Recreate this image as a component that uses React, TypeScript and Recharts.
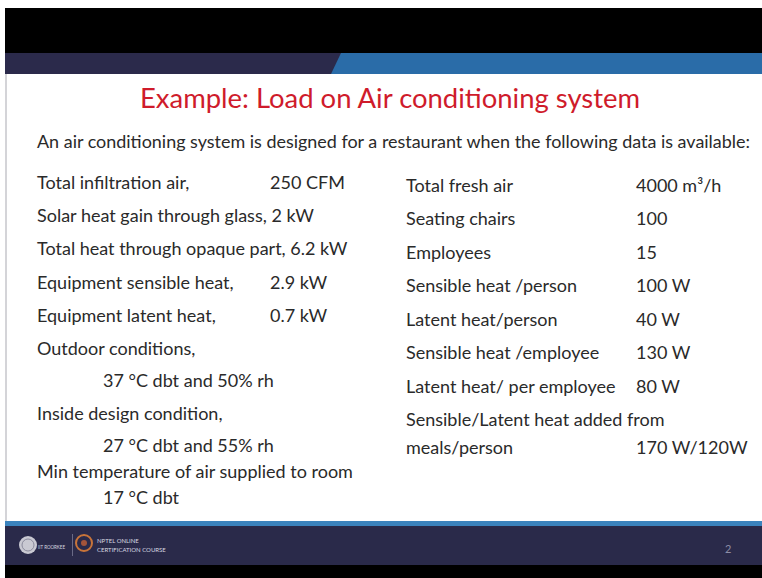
import React from 'react';
import { ComposedChart, Customized } from 'recharts';

const titleText = 'Example: Load on Air conditioning system';
const introText =
  'An air conditioning system is designed for a restaurant when the following data is available:';

const leftLabels = [
  'Total infiltration air,',
  'Solar heat gain through glass, 2 kW',
  'Total heat through opaque part, 6.2 kW',
  'Equipment sensible heat,',
  'Equipment latent heat,',
  'Outdoor conditions,',
  '37 °C dbt and 50% rh',
  'Inside design condition,',
  '27 °C dbt and 55% rh',
  'Min temperature of air supplied to room',
  '17 °C dbt',
];
const leftValues = ['250 CFM', '', '', '2.9 kW', '0.7 kW', '', '', '', '', '', ''];
const leftIndented = [false, false, false, false, false, false, true, false, true, false, true];

const rightLabels = [
  'Total fresh air',
  'Seating chairs',
  'Employees',
  'Sensible heat /person',
  'Latent heat/person',
  'Sensible heat /employee',
  'Latent heat/ per employee',
  'Sensible/Latent heat added from',
  'meals/person',
];
const rightValues = ['4000 m³/h', '100', '15', '100 W', '40 W', '130 W', '80 W', '', '170 W/120W'];

const footerOrg = 'IIT ROORKEE';
const footerCourse = ['NPTEL ONLINE', 'CERTIFICATION COURSE'];
const pageNumber = '2';

// layout
const W = 762;
const H = 578;
const leftRowY = [182, 215, 248, 282, 315, 348, 380, 413, 445, 471, 497];
const rightRowY = [185, 218, 252, 285, 319, 352, 386, 419, 447];
const FONT = 'Lato, "Open Sans", sans-serif';
const TEXT = '#2a2a2a';

const Slide = () => (
  <g fontFamily={FONT}>
    {/* outer frame */}
    <rect x={0} y={0} width={W} height={H} fill="#ffffff" />
    <rect x={5} y={8} width={W - 5} height={45} fill="#000000" />
    {/* header band */}
    <rect x={5} y={53} width={W - 5} height={21} fill="#2b2a4b" />
    <polygon points={`341,53 ${W},53 ${W},74 331,74`} fill="#2a6ca8" />
    {/* slide body */}
    <rect x={5} y={74} width={W - 5} height={449} fill="#ffffff" />
    <rect x={5} y={74} width={2} height={449} fill="#d4d4d8" />
    {/* footer */}
    <rect x={5} y={521} width={W - 5} height={5} fill="#3b83bd" />
    <rect x={5} y={526} width={W - 5} height={39} fill="#2a2a4a" />
    <rect x={5} y={565} width={W - 5} height={13} fill="#000000" />

    {/* title */}
    <text
      x={390}
      y={97}
      textAnchor="middle"
      dominantBaseline="central"
      fontSize={27}
      fill="#cf1b2b"
      textLength={500}
      lengthAdjust="spacingAndGlyphs"
    >
      {titleText}
    </text>
    <text
      x={37}
      y={141}
      dominantBaseline="central"
      fontSize={17}
      fill={TEXT}
      textLength={713}
      lengthAdjust="spacingAndGlyphs"
    >
      {introText}
    </text>

    {leftLabels.map((l, i) => (
      <text
        key={'ll' + i}
        x={leftIndented[i] ? 103 : 37}
        y={leftRowY[i]}
        dominantBaseline="central"
        fontSize={18}
        fill={TEXT}
      >
        {l}
      </text>
    ))}
    {leftValues.map((v, i) =>
      v ? (
        <text key={'lv' + i} x={270} y={leftRowY[i]} dominantBaseline="central" fontSize={18} fill={TEXT}>
          {v}
        </text>
      ) : null
    )}
    {rightLabels.map((l, i) => (
      <text key={'rl' + i} x={406} y={rightRowY[i]} dominantBaseline="central" fontSize={18} fill={TEXT}>
        {l}
      </text>
    ))}
    {rightValues.map((v, i) =>
      v ? (
        <text key={'rv' + i} x={636} y={rightRowY[i]} dominantBaseline="central" fontSize={18} fill={TEXT}>
          {v}
        </text>
      ) : null
    )}

    {/* footer content */}
    <circle cx={28} cy={545} r={9} fill="#c9c9d2" />
    <circle cx={28} cy={545} r={6} fill="none" stroke="#8a8a9c" strokeWidth={1} />
    <text
      x={38}
      y={546}
      dominantBaseline="central"
      fontSize={6}
      fill="#d8d8e0"
      textLength={27}
      lengthAdjust="spacingAndGlyphs"
    >
      {footerOrg}
    </text>
    <rect x={72} y={534} width={1} height={22} fill="#6a6a86" />
    <circle cx={84} cy={543} r={8} fill="none" stroke="#c8743a" strokeWidth={2} />
    <circle cx={84} cy={543} r={3} fill="#a4543a" />
    <text x={97} y={540} dominantBaseline="central" fontSize={6} fill="#d8d8e0">
      {footerCourse[0]}
    </text>
    <text x={97} y={549} dominantBaseline="central" fontSize={6} fill="#d8d8e0">
      {footerCourse[1]}
    </text>
    <text x={725} y={548} dominantBaseline="central" fontSize={11} fill="#8d8da6">
      {pageNumber}
    </text>
  </g>
);

export default function App() {
  return (
    <div style={{ position: 'absolute', left: 0, top: 0, width: W, height: H }}>
      <ComposedChart width={W} height={H} data={[]} margin={{ top: 0, right: 0, bottom: 0, left: 0 }}>
        <Customized component={<Slide />} />
      </ComposedChart>
    </div>
  );
}
